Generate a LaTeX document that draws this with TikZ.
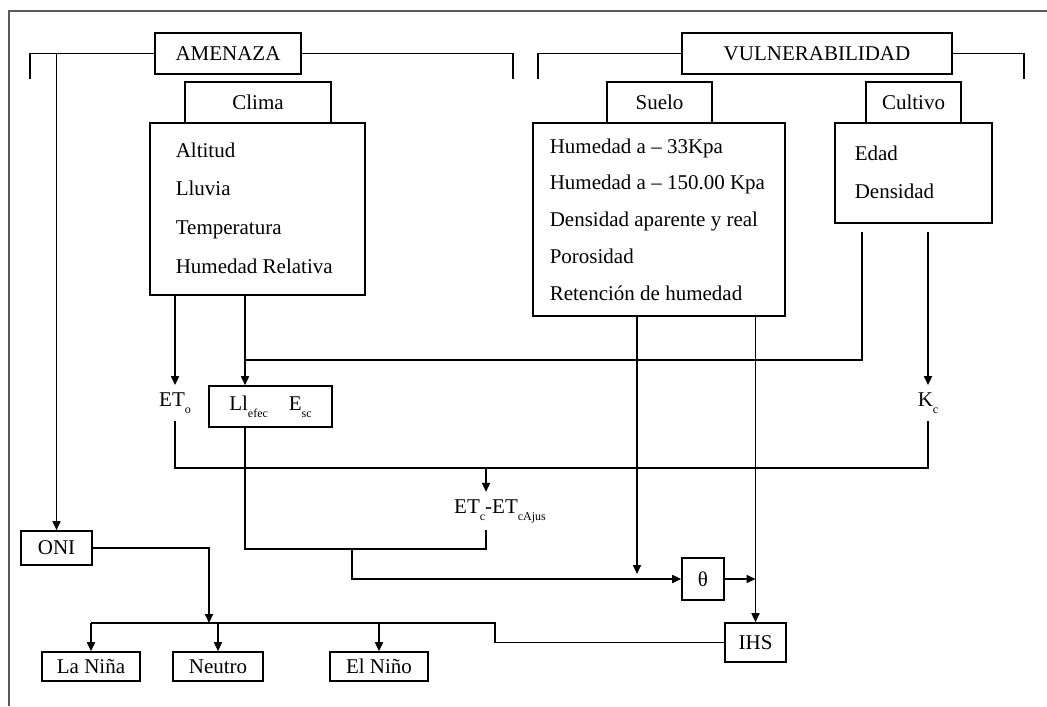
\documentclass[tikz,border=0pt]{standalone}
\usepackage{fontspec}
\setmainfont{Liberation Serif}
\usetikzlibrary{arrows.meta}
\newcommand{\subind}[1]{\raisebox{-3.5pt}{\fontsize{6}{6}\selectfont #1}}

\begin{document}
\begin{tikzpicture}[x=0.5pt,y=-0.5pt,line width=0.8pt,
    font=\fontsize{10.5}{12}\selectfont,
    caja/.style={draw,inner sep=0pt,minimum height=20.5pt},
    lista/.style={draw,inner sep=0pt},
    item/.style={anchor=base west,inner sep=0pt},
    flecha/.style={-{Triangle[length=4.5pt,width=4pt]}}]
        \useasboundingbox (0,0) rectangle (1047,706);
        \draw[gray!70!black,line width=1pt] (9,706) -- (9,11) -- (1047,11);

        % amenaza y clima
        \node[caja,minimum width=73pt] (amenaza) at (228,53.5) {AMENAZA};
        \node[caja,minimum width=73pt] (clima) at (258,102.5) {Clima};
        \node[lista,minimum width=107.5pt,minimum height=86pt] (climalist) at (257.5,209) {};
        \foreach \t [count=\i] in {Altitud,Lluvia,Temperatura,Humedad Relativa}
            \node[item] (cl\i) at (175,{157+38.7*(\i-1)}) {\t};

        % vulnerabilidad, suelo y cultivo
        \node[caja,minimum width=135pt] (vulner) at (817,53.5) {VULNERABILIDAD};
        \node[caja,minimum width=52.5pt] (suelo) at (659.5,102.5) {Suelo};
        \node[lista,minimum width=126pt,minimum height=96.5pt] (suelolist) at (659,219.5) {};
        \foreach \t [count=\i] in {Humedad a – 33Kpa,Humedad a – 150.00 Kpa,Densidad aparente y real,Porosidad,Retención de humedad}
            \node[item] (su\i) at (549,{153+36.75*(\i-1)}) {\t};
        \node[caja,minimum width=47.5pt] (cultivo) at (913.5,102.5) {Cultivo};
        \node[lista,minimum width=78.5pt,minimum height=50pt] (cultivolist) at (913.5,173) {};
        \foreach \t [count=\i] in {Edad,Densidad}
            \node[item] (cu\i) at (854,{160+38*(\i-1)}) {\t};

        % variables
        \node (eto) at (175,403) {ET\subind{o}};
        \node[caja,minimum width=61.5pt] (ll) at (270.5,406.5) {Ll\subind{efec}\quad E\subind{sc}};
        \node (kc) at (928,403) {K\subind{c}};
        \node (etc) at (500,511) {ET\subind{c}-ET\subind{cAjus}};
        \node[caja,minimum width=21pt,minimum height=21pt] (theta) at (703,579) {θ};
        \node[caja,minimum width=30.5pt,minimum height=19.5pt] (ihs) at (755.5,642.5) {IHS};
        \node[caja,minimum width=35.5pt,minimum height=17pt] (oni) at (56.5,548) {ONI};
        \node[caja,minimum width=49pt,minimum height=14.5pt] (lanina) at (91,666.5) {La Niña};
        \node[caja,minimum width=45pt,minimum height=14.5pt] (neutro) at (218,666.5) {Neutro};
        \node[caja,minimum width=49pt,minimum height=14.5pt] (elnino) at (379,666.5) {El Niño};

        \coordinate (c1) at (245,360);
        \coordinate (cu) at (862,232);
        \coordinate (j1) at (486,468);
        \coordinate (j2) at (352,549);
        \coordinate (s1) at (637,576);
        \coordinate (j3) at (495,623);
        \coordinate (j4) at (209,623);

        % llaves
        \draw (amenaza.west) -| (30,79);
        \draw (amenaza.east) -| (513,79);
        \draw (vulner.west) -| (538,79);
        \draw (vulner.east) -| (1024,79);

        % conexiones
        \draw[flecha] (oni.north |- amenaza.west) -- (oni.north);
        \draw[flecha] (eto.north |- climalist.south) -- (eto.north);
        \draw[flecha] (climalist.south -| c1) -- (ll.north -| c1);
        \draw (cu) |- (c1);
        \draw[flecha] (kc.north |- cu) -- (kc.north);
        \draw (eto.south) |- (j1) -| (kc.south);
        \draw[flecha] (j1) -- (etc.north -| j1);
        \draw (ll.south -| c1) |- (j2) -| (etc.south -| j1);
        \draw[flecha] (j2) |- (theta.west);
        \draw[flecha] (suelolist.south -| s1) -- ([yshift=1pt]s1);
        \draw[flecha] (ihs.north |- suelolist.south) -- (ihs.north);
        \draw[flecha] (theta.east) -- (theta.east -| ihs.north);
        \draw (ihs.west) -| (j3) -- (lanina.north |- j3);
        \draw[flecha] (oni.east) -| (j4);
        \foreach \n in {lanina,neutro,elnino}
            \draw[flecha] (\n.north |- j3) -- (\n.north);
\end{tikzpicture}
\end{document}
